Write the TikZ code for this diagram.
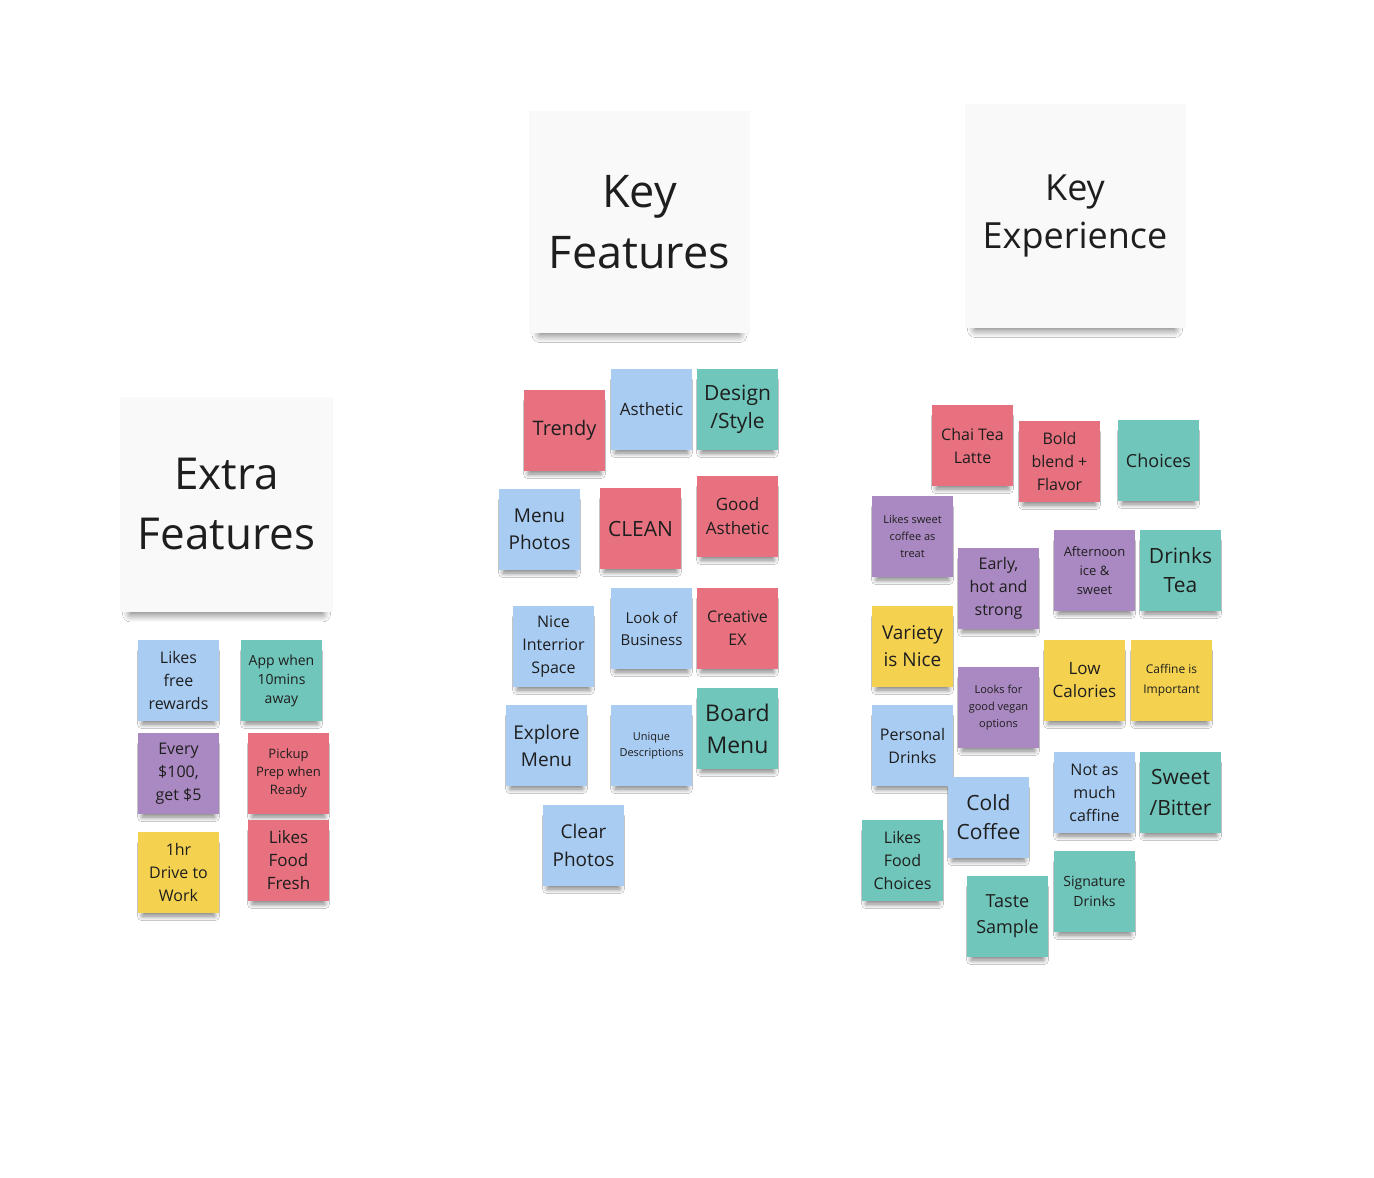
\documentclass[tikz,border=0pt]{standalone}
\usepackage{fontspec}
\setmainfont{Open Sans}
\usepackage{tikz}
\usetikzlibrary{shadows.blur}
\definecolor{noteblue}{HTML}{A9CCF3}
\definecolor{noteteal}{HTML}{70C6BA}
\definecolor{notered}{HTML}{E8717F}
\definecolor{notepurple}{HTML}{AA89C2}
\definecolor{noteyellow}{HTML}{F4D250}
\definecolor{headerwhite}{HTML}{F9F9F9}
\definecolor{inkgray}{HTML}{1E1E1E}

\begin{document}
\begin{tikzpicture}[x=1pt,y=-1pt,
    note/.style={fill=#1, minimum width=81pt, minimum height=81pt, inner sep=1pt, align=center, text=inkgray,
        blur shadow={shadow xshift=0pt, shadow yshift=-8pt, shadow scale=0.9, shadow opacity=50,
            shadow blur radius=5pt, shadow blur steps=10}},
    header/.style={fill=headerwhite, minimum width=221pt, minimum height=222pt, inner sep=2pt, align=center, text=inkgray,
        blur shadow={shadow xshift=0pt, shadow yshift=-14pt, shadow scale=0.9, shadow opacity=60,
            shadow blur radius=9pt, shadow blur steps=12}},
    fs/.style 2 args={font=\fontsize{#1}{#2}\selectfont}]
    \useasboundingbox[fill=white] (0,0) rectangle (1374,1178);
    \node[header, fs={44}{60}, minimum width=213pt, minimum height=215pt] (extrahead) at (226.5,504.5) {Extra\\Features};
    \node[header, fs={45}{61}] (keyfeathead) at (639.5,222) {Key\\Features};
    \node[header, fs={36}{48}, minimum height=224pt] (keyexphead) at (1075,216) {Key\\Experience};
    \node[note=noteblue, fs={16}{23}] (rewards) at (178.5,680.5) {Likes\\free\\rewards};
    \node[note=noteteal, fs={14}{19}] (appaway) at (281.5,680.5) {App when\\10mins\\away};
    \node[note=notepurple, fs={16}{23}] (everyhundred) at (178.5,773.5) {Every\\\$100,\\get \$5};
    \node[note=notered, fs={13}{18}] (pickup) at (288.5,773.5) {Pickup\\Prep when\\Ready};
    \node[note=noteyellow, fs={16}{23}] (drive) at (178.5,872.5) {1hr\\Drive to\\Work};
    \node[note=notered, fs={17}{23}] (foodfresh) at (288.5,860.5) {Likes\\Food\\Fresh};
    \node[note=notered, fs={20}{26}] (trendy) at (564.5,430.5) {Trendy};
    \node[note=noteblue, fs={17}{23}] (asthetic) at (651.5,409.5) {Asthetic};
    \node[note=noteteal, fs={21}{28}] (design) at (737.5,409.5) {Design\\/Style};
    \node[note=noteblue, fs={19}{27}] (menuphotos) at (539.5,529.5) {Menu\\Photos};
    \node[note=notered, fs={21}{28}] (clean) at (640.5,528.5) {CLEAN};
    \node[note=notered, fs={17}{24}] (goodasthetic) at (737.5,516.5) {Good\\Asthetic};
    \node[note=noteblue, fs={16}{23}] (interior) at (553.5,646.5) {Nice\\Interrior\\Space};
    \node[note=noteblue, fs={15}{22}] (lookbusiness) at (651.5,628.5) {Look of\\Business};
    \node[note=notered, fs={16}{23}] (creative) at (737.5,628.5) {Creative\\EX};
    \node[note=noteblue, fs={19}{27}] (explore) at (546.5,745.5) {Explore\\Menu};
    \node[note=noteblue, fs={11}{16}] (unique) at (651.5,745.5) {Unique\\Descriptions};
    \node[note=noteteal, fs={23}{32}] (board) at (737.5,728.5) {Board\\Menu};
    \node[note=noteblue, fs={19}{28}] (clearphotos) at (583.5,845.5) {Clear\\Photos};
    \node[note=notered, fs={16}{23}] (chai) at (972.5,445.5) {Chai Tea\\Latte};
    \node[note=notered, fs={16}{23}] (bold) at (1059.5,461.5) {Bold\\blend +\\Flavor};
    \node[note=noteteal, fs={18}{24}] (choices) at (1158.5,460.5) {Choices};
    \node[note=notepurple, fs={11}{17}] (sweettreat) at (912.5,536.5) {Likes sweet\\coffee as\\treat};
    \node[note=notepurple, fs={16}{23}] (early) at (998.5,588.5) {Early,\\hot and\\strong};
    \node[note=notepurple, fs={13}{19}] (afternoon) at (1094.5,570.5) {Afternoon\\ice \&\\sweet};
    \node[note=noteteal, fs={21}{29}] (drinkstea) at (1180.5,570.5) {Drinks\\Tea};
    \node[note=noteyellow, fs={19}{27}] (variety) at (912.5,646.5) {Variety\\is Nice};
    \node[note=notepurple, fs={11}{17}] (vegan) at (998.5,707.5) {Looks for\\good vegan\\options};
    \node[note=noteyellow, fs={17}{23}] (lowcal) at (1084.5,680.5) {Low\\Calories};
    \node[note=noteyellow, fs={12}{20}] (caffine) at (1171.5,680.5) {Caffine is\\Important};
    \node[note=noteblue, fs={16}{23}] (personal) at (912.5,745.5) {Personal\\Drinks};
    \node[note=noteblue, fs={16}{23}] (notmuch) at (1094.5,792.5) {Not as\\much\\caffine};
    \node[note=noteteal, fs={21}{31}] (sweetbitter) at (1180.5,792.5) {Sweet\\/Bitter};
    \node[note=noteblue, fs={21}{29}] (coldcoffee) at (988.5,817.5) {Cold\\Coffee};
    \node[note=noteteal, fs={16}{23}] (foodchoices) at (902.5,860.5) {Likes\\Food\\Choices};
    \node[note=noteteal, fs={14}{20}] (signature) at (1094.5,891.5) {Signature\\Drinks};
    \node[note=noteteal, fs={18}{26}] (taste) at (1007.5,916.5) {Taste\\Sample};
\end{tikzpicture}
\end{document}
